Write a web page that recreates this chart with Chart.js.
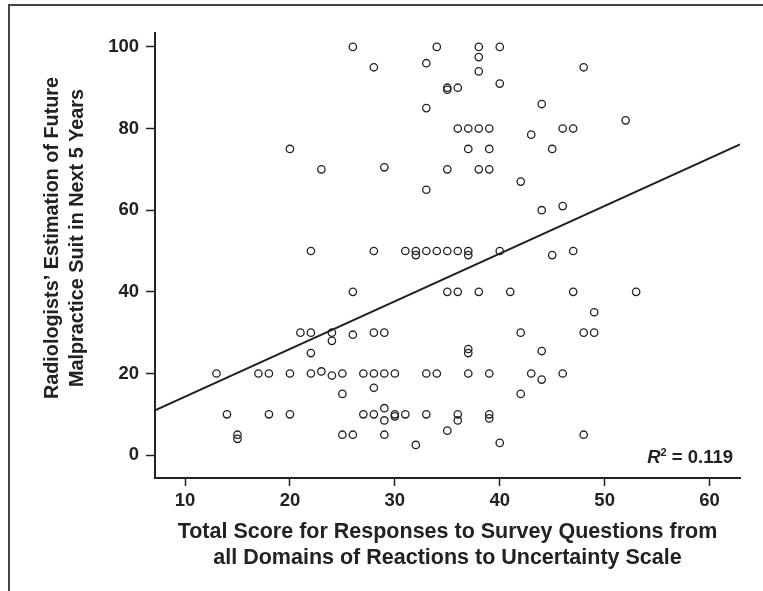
<!DOCTYPE html>
<html>
<head>
<meta charset="utf-8">
<title>Malpractice suit estimation vs uncertainty score</title>
<script src="https://cdn.jsdelivr.net/npm/chart.js@4.4.1/dist/chart.umd.min.js"></script>
<style>
    html, body {
        margin: 0;
        padding: 0;
        background: #fff;
    }
    #wrap {
        position: relative;
        width: 763px;
        height: 591px;
        overflow: hidden;
    }
    #frame {
        position: absolute;
        left: 8px;
        top: 4px;
        right: -4px;
        bottom: -4px;
        border-top: 2px solid #444;
        border-left: 2px solid #444;
        pointer-events: none;
    }
    canvas {
        position: absolute;
        left: 0;
        top: 0;
    }
</style>
</head>
<body>
<div id="wrap">
    <canvas id="scatterChart" width="763" height="591"></canvas>
    <div id="frame"></div>
</div>
<script>
    'use strict';

    // Total score (x) for each respondent
    var scores = [
        26, 34, 38, 40,
        28, 33, 38, 38, 48, 40,
        35, 35, 36,
        33, 44,
        52,
        36, 37, 38, 39, 46, 47,
        43,
        20, 37, 39, 45,
        23, 29, 35, 38, 39,
        42,
        33,
        44, 46,
        22, 28, 31, 32, 32, 33, 34, 35, 36, 37, 37, 40, 45, 47,
        26, 35, 36, 38, 41, 47, 53,
        49,
        21, 22, 24, 26, 28, 29, 42, 48, 49,
        24,
        22,
        37, 37, 44,
        13, 17, 18, 20, 22, 23, 24, 25, 27, 28, 29, 30, 33, 34, 37, 39, 43, 46,
        44,
        28,
        25, 42,
        29,
        14, 18, 20, 27, 28, 30, 30, 31, 33, 36, 36, 39, 39,
        29,
        35,
        15, 15, 25, 26, 29, 48,
        32, 40
    ];

    // Estimated chance (%) of a malpractice suit in the next 5 years
    var estimates = [
        100, 100, 100, 100,
        95, 96, 97.5, 94, 95, 91,
        90, 89.5, 90,
        85, 86,
        82,
        80, 80, 80, 80, 80, 80,
        78.5,
        75, 75, 75, 75,
        70, 70.5, 70, 70, 70,
        67,
        65,
        60, 61,
        50, 50, 50, 50, 49, 50, 50, 50, 50, 50, 49, 50, 49, 50,
        40, 40, 40, 40, 40, 40, 40,
        35,
        30, 30, 30, 29.5, 30, 30, 30, 30, 30,
        28,
        25,
        26, 25, 25.5,
        20, 20, 20, 20, 20, 20.5, 19.5, 20, 20, 20, 20, 20, 20, 20, 20, 20, 20, 20,
        18.5,
        16.5,
        15, 15,
        11.5,
        10, 10, 10, 10, 10, 10, 9.5, 10, 10, 10, 8.5, 10, 9,
        8.5,
        6,
        5, 4, 5, 5, 5, 5,
        2.5, 3
    ];

    // Linear fit shown on the figure
    var fitIntercept = 2.66;
    var fitSlope = 1.168;
    var rSquared = '0.119';

    var xTicks = [10, 20, 30, 40, 50, 60];
    var yTicks = [0, 20, 40, 60, 80, 100];
    var xRange = [7.14, 62.9];
    var yRange = [-5.6, 103.4];

    var xTitle = [
        'Total Score for Responses to Survey Questions from',
        'all Domains of Reactions to Uncertainty Scale'
    ];
    var yTitle = [
        'Radiologists\u2019 Estimation of Future',
        'Malpractice Suit in Next 5 Years'
    ];

    var ink = '#222';
    var fontFamily = '"Liberation Sans", Arial, Helvetica, sans-serif';

    var points = scores.map(function(x, i) {
        return { x: x, y: estimates[i] };
    });

    var fitLine = xRange.map(function(x) {
        return { x: x, y: fitIntercept + fitSlope * x };
    });

    // Writes "R² = 0.119" in the lower right corner of the plot area
    var rSquaredLabel = {
        id: 'rSquaredLabel',
        afterDatasetsDraw: function(chart) {
            var ctx = chart.ctx;
            var area = chart.chartArea;
            var right = area.right - 7;
            var baseline = area.bottom - 15;
            var rest = ' = ' + rSquared;

            ctx.save();
            ctx.fillStyle = ink;
            ctx.textBaseline = 'alphabetic';
            ctx.textAlign = 'left';

            ctx.font = 'bold 18.5px ' + fontFamily;
            var restWidth = ctx.measureText(rest).width;
            ctx.font = 'bold 11px ' + fontFamily;
            var supWidth = ctx.measureText('2').width;
            ctx.font = 'italic bold 18.5px ' + fontFamily;
            var rWidth = ctx.measureText('R').width;

            var x = right - restWidth - supWidth - rWidth;
            ctx.fillText('R', x, baseline);
            ctx.font = 'bold 11px ' + fontFamily;
            ctx.fillText('2', x + rWidth, baseline - 7.5);
            ctx.font = 'bold 18.5px ' + fontFamily;
            ctx.fillText(rest, x + rWidth + supWidth, baseline);
            ctx.restore();
        }
    };

    // The y title sits a bit above the middle of the axis in the original,
    // so it is drawn here instead of through scale.title
    var yAxisTitle = {
        id: 'yAxisTitle',
        afterDraw: function(chart) {
            var ctx = chart.ctx;
            var centerY = chart.chartArea.top + 205;
            var firstLineX = 53;
            var lineGap = 25;

            ctx.save();
            ctx.fillStyle = ink;
            ctx.font = 'bold 19.8px ' + fontFamily;
            ctx.textAlign = 'center';
            ctx.textBaseline = 'middle';
            yTitle.forEach(function(line, i) {
                ctx.save();
                ctx.translate(firstLineX + i * lineGap, centerY);
                ctx.rotate(-Math.PI / 2);
                ctx.fillText(line, 0, 0);
                ctx.restore();
            });
            ctx.restore();
        }
    };

    function keepTicks(values) {
        return function(scale) {
            scale.ticks = values.map(function(v) {
                return { value: v };
            });
        };
    }

    var ctx = document.getElementById('scatterChart');

    new Chart(ctx, {
        type: 'scatter',
        data: {
            datasets: [{
                label: 'Respondents',
                data: points,
                pointStyle: 'circle',
                pointRadius: 3.7,
                pointHoverRadius: 3.7,
                pointBorderWidth: 1.3,
                pointBorderColor: ink,
                pointBackgroundColor: 'rgba(255, 255, 255, 0)',
                order: 2
            }, {
                label: 'Linear fit',
                type: 'line',
                data: fitLine,
                borderColor: ink,
                borderWidth: 2,
                pointRadius: 0,
                fill: false,
                order: 1
            }]
        },
        options: {
            responsive: false,
            animation: false,
            events: [],
            layout: {
                padding: { left: 0, right: 23, top: 33, bottom: 0 }
            },
            plugins: {
                legend: { display: false },
                tooltip: { enabled: false }
            },
            scales: {
                x: {
                    type: 'linear',
                    min: xRange[0],
                    max: xRange[1],
                    afterBuildTicks: keepTicks(xTicks),
                    afterFit: function(scale) {
                        scale.height = 113;
                    },
                    border: { display: true, color: ink, width: 2 },
                    grid: {
                        drawOnChartArea: false,
                        drawTicks: true,
                        tickLength: 8,
                        tickWidth: 1.5,
                        tickColor: ink
                    },
                    ticks: {
                        color: ink,
                        padding: 4,
                        font: { family: fontFamily, size: 18.5, weight: 'bold' }
                    },
                    title: {
                        display: true,
                        text: xTitle,
                        color: ink,
                        padding: { top: 0, bottom: 20 },
                        font: { family: fontFamily, size: 21.5, weight: 'bold', lineHeight: '26px' }
                    }
                },
                y: {
                    type: 'linear',
                    min: yRange[0],
                    max: yRange[1],
                    afterBuildTicks: keepTicks(yTicks),
                    afterFit: function(scale) {
                        scale.width = 155;
                    },
                    border: { display: true, color: ink, width: 2 },
                    grid: {
                        drawOnChartArea: false,
                        drawTicks: true,
                        tickLength: 9,
                        tickWidth: 1.5,
                        tickColor: ink
                    },
                    ticks: {
                        color: ink,
                        padding: 7,
                        font: { family: fontFamily, size: 18.5, weight: 'bold' }
                    },
                    title: { display: false }
                }
            }
        },
        plugins: [rSquaredLabel, yAxisTitle]
    });
</script>
</body>
</html>
